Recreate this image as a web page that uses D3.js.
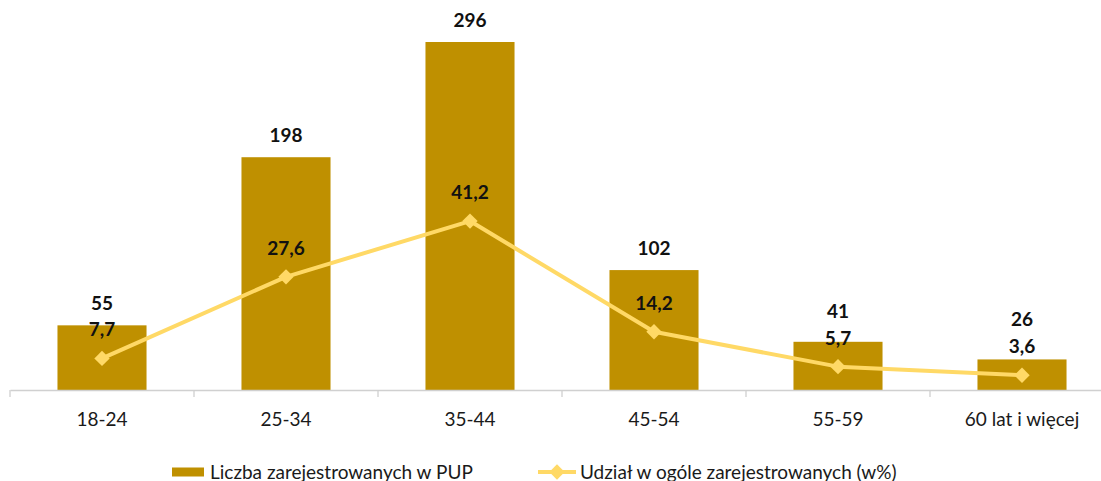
<!DOCTYPE html>
<html>
<head>
<meta charset="utf-8">
<script src="https://cdn.jsdelivr.net/npm/d3@7"></script>
<style>
  body { margin: 0; background: #fff; }
  svg { font-family: Lato, "Open Sans", sans-serif; }
</style>
</head>
<body>
<svg class="chart" width="1101" height="481"></svg>
<script>
const categories = ["18-24", "25-34", "35-44", "45-54", "55-59", "60 lat i więcej"];
const registered = [55, 198, 296, 102, 41, 26];
const share = [7.7, 27.6, 41.2, 14.2, 5.7, 3.6];
const seriesNames = ["Liczba zarejestrowanych w PUP", "Udział w ogóle zarejestrowanych (w%)"];

const barColor = "#bf9000";
const lineColor = "#ffd966";

const svg = d3.select("svg.chart");

const baseline = 390;

const x = d3.scaleBand()
    .domain(categories)
    .range([10, 1114])
    .paddingInner(0.516)
    .paddingOuter(0.258);

// primary axis (counts) and secondary axis (percent)
const y = d3.scaleLinear().domain([0, 300]).range([baseline, 37.3]);
const y2 = d3.scaleLinear().domain([0, 50]).range([baseline, 185]);

const fmt = d => String(d).replace(".", ",");

// bars
svg.append("g")
    .selectAll("rect")
    .data(registered)
    .join("rect")
    .attr("x", (d, i) => x(categories[i]))
    .attr("y", d => y(d))
    .attr("width", x.bandwidth())
    .attr("height", d => baseline - y(d))
    .attr("fill", barColor);

// x axis
const axis = svg.append("g")
    .attr("transform", `translate(0,${baseline})`)
    .call(d3.axisBottom(x).tickSize(0).tickPadding(23));
axis.select(".domain").attr("stroke", "#d0d0d0").attr("stroke-width", 1.3);
axis.selectAll("text")
    .style("font-size", "19px")
    .style("font-family", "Lato, sans-serif")
    .attr("fill", "#1a1a1a");

// category boundary ticks
const step = x.step();
const bounds = d3.range(categories.length + 1).map(i => 10 + i * step);
svg.append("g")
    .selectAll("line")
    .data(bounds)
    .join("line")
    .attr("x1", d => d).attr("x2", d => d)
    .attr("y1", baseline).attr("y2", baseline + 7)
    .attr("stroke", "#d0d0d0")
    .attr("stroke-width", 1.3);

// line series
const cx = (d, i) => x(categories[i]) + x.bandwidth() / 2;
const line = d3.line()
    .x((d, i) => cx(d, i))
    .y(d => y2(d));

svg.append("path")
    .datum(share)
    .attr("d", line)
    .attr("fill", "none")
    .attr("stroke", lineColor)
    .attr("stroke-width", 4)
    .attr("stroke-linejoin", "round");

const diamond = d3.symbol().type(d3.symbolDiamond2).size(150);

svg.append("g")
    .selectAll("path")
    .data(share)
    .join("path")
    .attr("d", diamond)
    .attr("transform", (d, i) => `translate(${cx(d, i)},${y2(d)})`)
    .attr("fill", lineColor);

// label positions: line labels above points, bar labels above bars,
// bar label pushed up when it would collide with the line label
const lineLabelY = share.map(d => y2(d) - 22);
const barLabelY = registered.map((d, i) => {
    const yy = y(d) - 15;
    return (lineLabelY[i] - yy < 24) ? lineLabelY[i] - 27 : yy;
});

svg.append("g")
    .selectAll("text")
    .data(registered)
    .join("text")
    .attr("x", (d, i) => cx(d, i))
    .attr("y", (d, i) => barLabelY[i])
    .attr("text-anchor", "middle")
    .style("font-size", "19px")
    .style("font-weight", "bold")
    .attr("fill", "#111")
    .text(d => d);

svg.append("g")
    .selectAll("text")
    .data(share)
    .join("text")
    .attr("x", (d, i) => cx(d, i))
    .attr("y", (d, i) => lineLabelY[i])
    .attr("text-anchor", "middle")
    .style("font-size", "19px")
    .style("font-weight", "bold")
    .attr("fill", "#111")
    .text(d => fmt(d));

// legend
const legend = svg.append("g").attr("transform", "translate(0,472)");

legend.append("rect")
    .attr("x", 172).attr("y", -4.5)
    .attr("width", 32).attr("height", 9)
    .attr("fill", barColor);
legend.append("text")
    .attr("x", 210).attr("y", 7)
    .style("font-size", "19px")
    .attr("fill", "#1a1a1a")
    .text(seriesNames[0]);

legend.append("line")
    .attr("x1", 538).attr("x2", 576)
    .attr("y1", 0).attr("y2", 0)
    .attr("stroke", lineColor)
    .attr("stroke-width", 4);
legend.append("path")
    .attr("d", diamond)
    .attr("transform", "translate(557,0)")
    .attr("fill", lineColor);
legend.append("text")
    .attr("x", 580).attr("y", 7)
    .style("font-size", "19px")
    .attr("fill", "#1a1a1a")
    .text(seriesNames[1]);
</script>
</body>
</html>
